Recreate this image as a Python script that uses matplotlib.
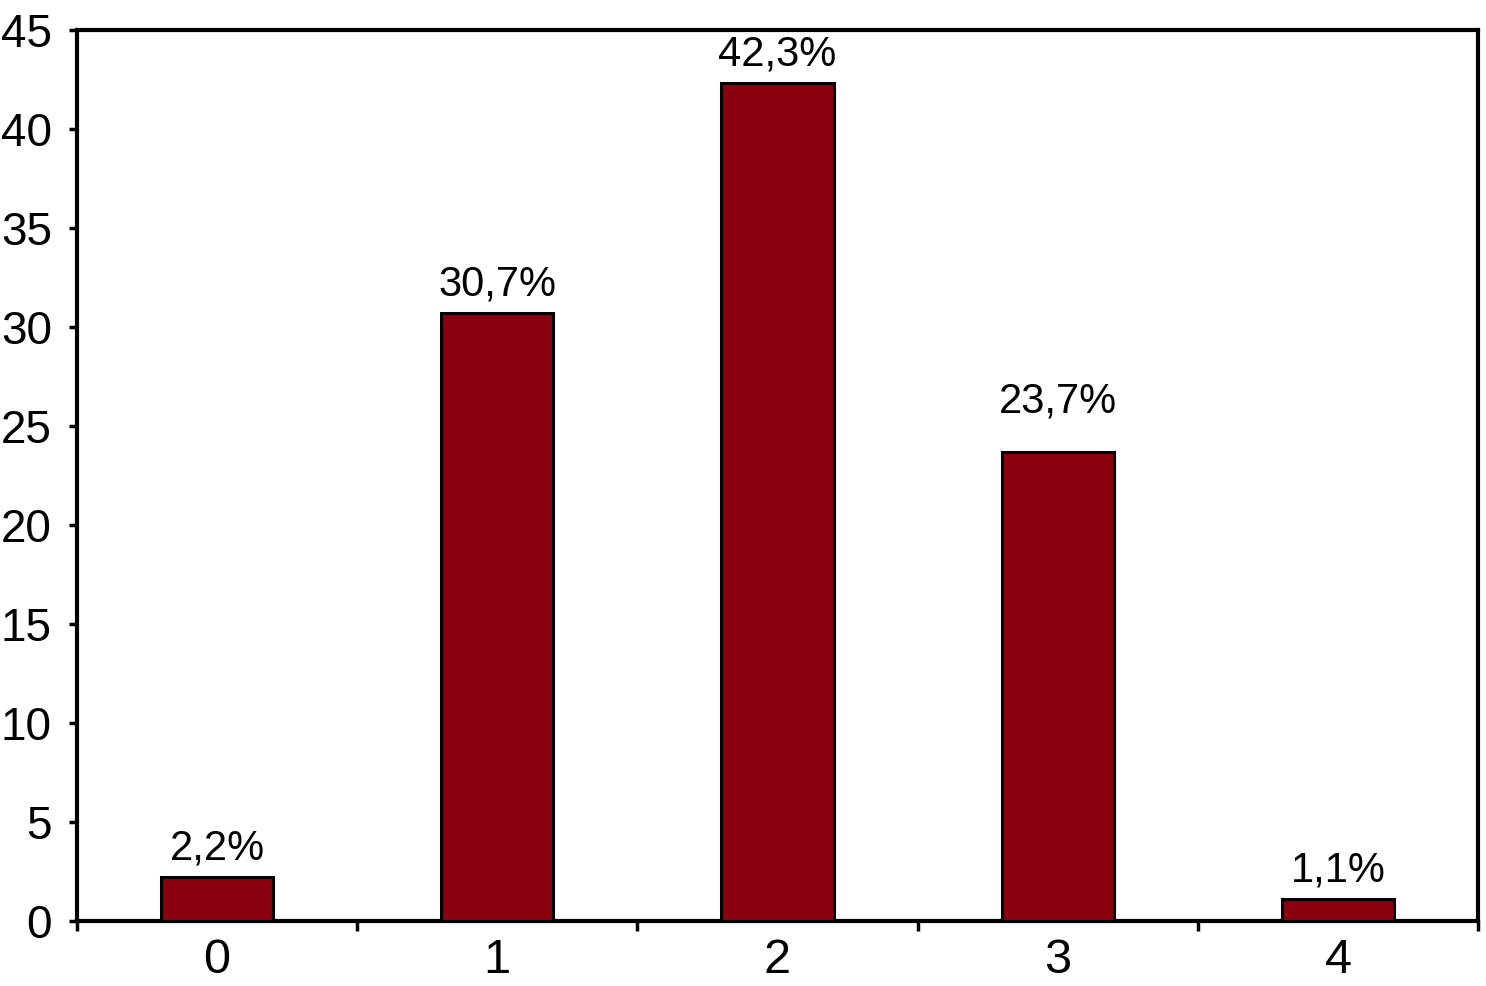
import matplotlib
matplotlib.use("Agg")
import matplotlib.pyplot as plt

categories = ["0", "1", "2", "3", "4"]
values = [2.2, 30.7, 42.3, 23.7, 1.1]
labels = ["2,2%", "30,7%", "42,3%", "23,7%", "1,1%"]
yticks = [0, 5, 10, 15, 20, 25, 30, 35, 40, 45]

plt.rcParams['font.family'] = ['Liberation Sans', 'DejaVu Sans']

fig = plt.figure(figsize=(14.86, 9.86), dpi=100)
ax = fig.add_axes([77/1486, 1 - 921/986, (1478-77)/1486, (921-30)/986])

x = list(range(len(categories)))
ax.bar(x, values, width=0.4, color="#8B000F", edgecolor="black", linewidth=2.2, zorder=3)

# label offsets in points above the bar top (the "3" label sits higher in the original)
label_offsets = [13, 13, 13, 28, 13]
for xi, v, lab, off in zip(x, values, labels, label_offsets):
    ax.annotate(lab, (xi, v), xytext=(0, off), textcoords="offset points",
                ha="center", va="baseline", fontsize=30)

ax.set_xlim(-0.5, 4.5)
ax.set_ylim(0, 45)
ax.set_yticks(yticks)
ax.set_yticklabels([str(t) for t in yticks])

# category labels at centers, tick marks at boundaries
ax.set_xticks(x)
ax.set_xticklabels(categories)
ax.set_xticks([i - 0.5 for i in range(len(categories) + 1)], minor=True)
ax.tick_params(axis="x", which="major", length=0, pad=12, labelsize=35)
ax.tick_params(axis="x", which="minor", length=7, width=2.5, direction="out")
ax.tick_params(axis="y", which="major", length=6, width=2.5, direction="out", pad=12, labelsize=33)

for s in ax.spines.values():
    s.set_linewidth(3)

fig.savefig("out.png", dpi=100)
